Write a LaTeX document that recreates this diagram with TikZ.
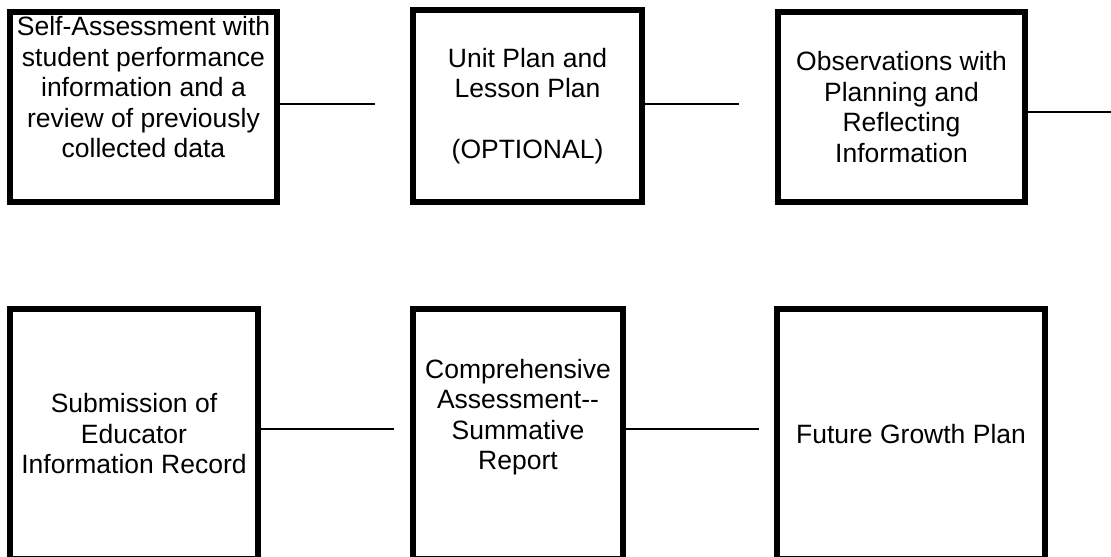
\documentclass[tikz,border=0pt]{standalone}
\usepackage{fontspec}
\setmainfont{Liberation Sans}
\begin{document}
\begin{tikzpicture}
    [x=0.5pt, y=-0.5pt,
    stage/.style={rectangle, draw=black, line width=3pt, align=center, inner sep=0pt, font=\fontsize{13.25}{15.25}\selectfont},
    toprow/.style={stage, minimum height=95pt},
    botrow/.style={stage, minimum height=125pt},
    link/.style={draw=black, line width=0.9pt}]
\clip (0,0) rectangle (1111,556);
\node[toprow, minimum width=133.5pt] (stage1) at (143.5,107) {Self-Assessment with\\student performance\\information and a\\review of previously\\collected data\\\strut};
\node[toprow, minimum width=114.5pt, minimum height=95.5pt] (stage2) at (527.5,106) {Unit Plan and\\Lesson Plan\\\strut\\(OPTIONAL)};
\node[toprow, minimum width=123.5pt] (stage3) at (901.5,107) {Observations with\\Planning and\\Reflecting\\Information};
\node[botrow, minimum width=124pt] (stage4) at (134,434) {Submission of\\Educator\\Information Record};
\node[botrow, minimum width=105pt] (stage5) at (518,434) {Comprehensive\\Assessment-{}-\\Summative\\Report\\\strut};
\node[botrow, minimum width=134pt] (stage6) at (911,434) {Future Growth Plan};
\coordinate (end1) at (375,104);
\coordinate (end2) at (739,104);
\coordinate (end3) at (1115,112);
\coordinate (end4) at (394,429);
\coordinate (end5) at (759,429);
\draw[link] (stage1.east |- end1) -- (end1);
\draw[link] (stage2.east |- end2) -- (end2);
\draw[link] (stage3.east |- end3) -- (end3);
\draw[link] (stage4.east |- end4) -- (end4);
\draw[link] (stage5.east |- end5) -- (end5);
\end{tikzpicture}
\end{document}
